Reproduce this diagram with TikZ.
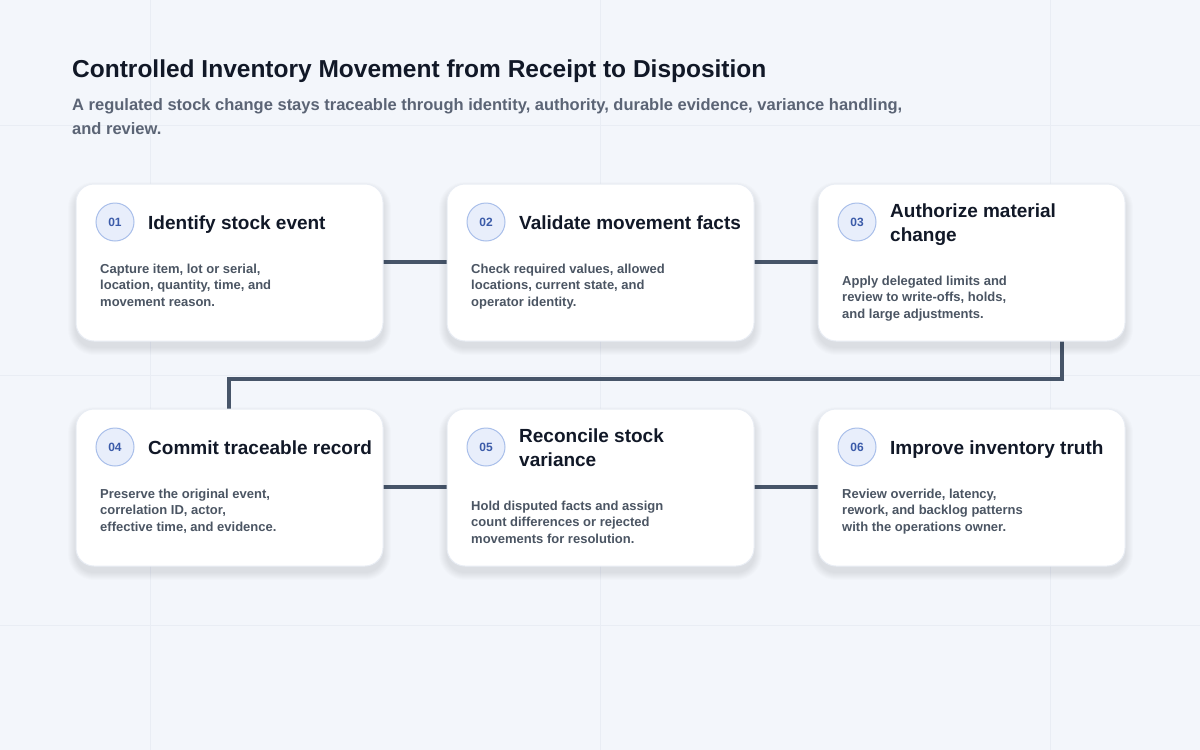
\documentclass[tikz,border=0pt]{standalone}
\usepackage{fontspec}
\setmainfont{Liberation Sans}
\definecolor{bg}{HTML}{F3F6FB}
\definecolor{ink}{HTML}{111827}
\definecolor{sub}{HTML}{5B6475}
\definecolor{body}{HTML}{4B5563}
\definecolor{line}{HTML}{475569}
\definecolor{circ}{HTML}{E8EEFB}
\definecolor{circb}{HTML}{A9BFEA}
\definecolor{num}{HTML}{3B5BA9}
\definecolor{grid}{HTML}{E9EDF4}
\definecolor{shd}{HTML}{1E293B}
\begin{document}
\begin{tikzpicture}[x=1pt,y=-1pt,
 card/.style={draw=grid,line width=1pt,fill=white,rounded corners=18pt},
 numc/.style={circle,draw=circb,fill=circ,line width=1pt,minimum size=38pt,inner sep=0pt,font=\fontsize{12}{12}\selectfont\bfseries,text=num},
 ttl/.style={anchor=base west,font=\fontsize{19}{24}\selectfont\bfseries,text=ink,align=left,inner sep=0pt},
 bdy/.style={anchor=base west,font=\fontsize{13}{16.5}\selectfont\bfseries,text=body,align=left,inner sep=0pt},
 conn/.style={draw=line,line width=3.5pt}]
\useasboundingbox (0,0) rectangle (1200,750);
\fill[bg] (0,0) rectangle (1200,750);
\foreach \x in {150,600,1050} \draw[grid,line width=0.7pt] (\x,0)--(\x,750);
\foreach \y in {125,375,625} \draw[grid,line width=0.7pt] (0,\y)--(1200,\y);
\node[anchor=base west,inner sep=0pt,font=\fontsize{24.5}{28}\selectfont\bfseries,text=ink] (title) at (72,77) {Controlled Inventory Movement from Receipt to Disposition};
\node[anchor=base west,inner sep=0pt,align=left,font=\fontsize{16.5}{24}\selectfont\bfseries,text=sub] (subt) at (72,134) {A regulated stock change stays traceable through identity, authority, durable evidence, variance handling,\\and review.};
% connectors
\coordinate (t1) at (1062,379); \coordinate (t2) at (229,379);
\draw[conn] (383,262)--(447,262);
\draw[conn] (753,262)--(818,262);
\draw[conn] (1062,341)--(t1)--(t2)--(229,409);
\draw[conn] (383,487)--(447,487);
\draw[conn] (753,487)--(818,487);
% cards with soft shadows
\foreach \n/\x/\y in {c1/76/184,c2/447/184,c3/818/184,c4/76/409,c5/447/409,c6/818/409}{
  \foreach \i in {1,...,8}
    \fill[shd,opacity=0.012,rounded corners=18pt+\i pt] (\x-\i,\y-\i+6) rectangle ++(307+2*\i,157+2*\i);
  \path[card] (\x,\y) rectangle ++(307,157);}
\foreach \n/\x/\y in {01/115/222,02/486/222,03/857/222,04/115/447,05/486/447,06/857/447}
  \node[numc] (n\n) at (\x,\y) {\n};
\node[ttl] (h1) at (148,229) {Identify stock event};
\node[ttl] (h2) at (519,229) {Validate movement facts};
\node[ttl] (h3) at (890,241) {Authorize material\\change};
\node[ttl] (h4) at (148,454) {Commit traceable record};
\node[ttl] (h5) at (519,466) {Reconcile stock\\variance};
\node[ttl] (h6) at (890,454) {Improve inventory truth};
\node[bdy] (b1) at (100,306) {Capture item, lot or serial,\\location, quantity, time, and\\movement reason.};
\node[bdy] (b2) at (471,306) {Check required values, allowed\\locations, current state, and\\operator identity.};
\node[bdy] (b3) at (842,318) {Apply delegated limits and\\review to write-offs, holds,\\and large adjustments.};
\node[bdy] (b4) at (100,531) {Preserve the original event,\\correlation ID, actor,\\effective time, and evidence.};
\node[bdy] (b5) at (471,543) {Hold disputed facts and assign\\count differences or rejected\\movements for resolution.};
\node[bdy] (b6) at (842,531) {Review override, latency,\\rework, and backlog patterns\\with the operations owner.};
\end{tikzpicture}
\end{document}
